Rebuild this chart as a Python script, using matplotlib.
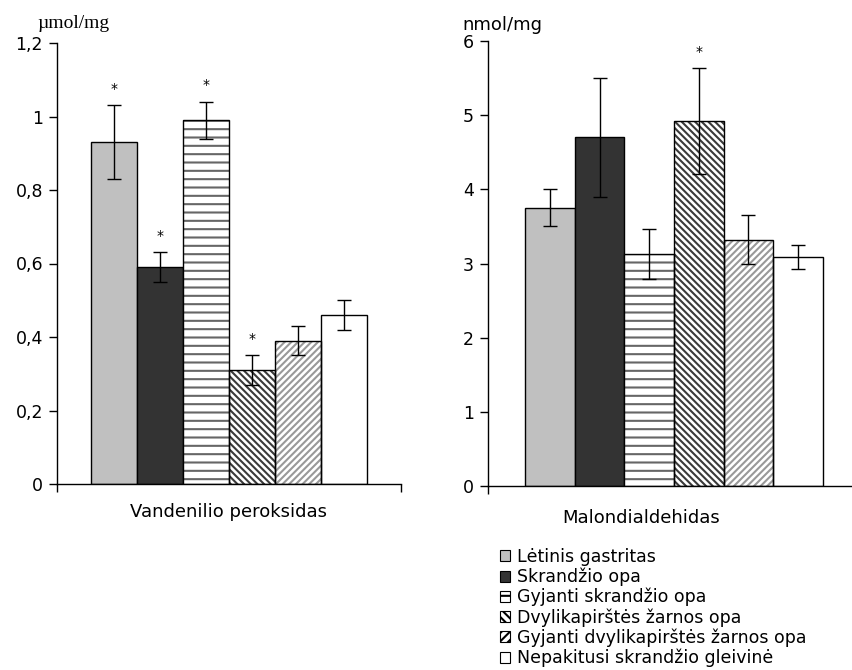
import matplotlib
matplotlib.use("Agg")
import matplotlib.pyplot as plt
from matplotlib.patches import Patch

plt.rcParams['font.family'] = ['DejaVu Sans']
plt.rcParams['hatch.linewidth'] = 1.5

groups = ["Lėtinis gastritas", "Skrandžio opa", "Gyjanti skrandžio opa",
          "Dvylikapirštės žarnos opa", "Gyjanti dvylikapirštės žarnos opa",
          "Nepakitusi skrandžio gleivinė"]

h2o2_vals = [0.93, 0.59, 0.99, 0.31, 0.39, 0.46]
h2o2_err = [0.10, 0.04, 0.05, 0.04, 0.04, 0.04]
h2o2_star = [True, True, True, True, False, False]

mda_vals = [3.75, 4.70, 3.13, 4.92, 3.32, 3.09]
mda_err = [0.25, 0.80, 0.34, 0.71, 0.33, 0.16]
mda_star = [False, False, False, True, False, False]

left_ticks = [0, 0.2, 0.4, 0.6, 0.8, 1.0, 1.2]
left_ticklabels = ["0", "0,2", "0,4", "0,6", "0,8", "1", "1,2"]
right_ticks = [0, 1, 2, 3, 4, 5, 6]
right_ticklabels = ["0", "1", "2", "3", "4", "5", "6"]

faces = ["#c0c0c0", "#333333", "white", "white", "white", "white"]
hatches = [None, None, "--", "\\\\\\\\\\", "/////", None]
hatch_cols = [None, None, "#666666", "#3a3a3a", "#999999", None]
legend_hatches = [None, None, "--", "\\\\\\\\", "////", None]

fig = plt.figure(figsize=(8.53, 6.70), dpi=100)
ax1 = fig.add_axes([57/853, 1-484/670, 344/853, 441/670])
ax2 = fig.add_axes([488/853, 1-486/670, 372/853, 445/670])


def draw(ax, vals, errs, stars, ticks, ticklabels, ymax):
    x = list(range(len(vals)))
    for i, (v, e) in enumerate(zip(vals, errs)):
        if hatches[i]:
            ax.bar(x[i], v, width=1.0, color="white", edgecolor=hatch_cols[i],
                   linewidth=0, hatch=hatches[i], zorder=2)
            ax.bar(x[i], v, width=1.0, color="none", edgecolor="black",
                   linewidth=1.0, zorder=3)
        else:
            ax.bar(x[i], v, width=1.0, color=faces[i], edgecolor="black",
                   linewidth=1.0, zorder=2)
    ax.errorbar(x, vals, yerr=errs, fmt="none", ecolor="black", elinewidth=1.0,
                capsize=5, capthick=1.0, zorder=4)
    for i, s in enumerate(stars):
        if s:
            ax.annotate("*", (x[i], vals[i] + errs[i]), xytext=(0, 7),
                        textcoords="offset points", ha="center", va="bottom",
                        fontsize=10)
    ax.set_xlim(-1.245, 6.245)
    ax.set_ylim(0, ymax)
    ax.set_yticks(ticks)
    ax.set_yticklabels(ticklabels, fontsize=12.5)
    ax.set_xticks([-1.245, 6.245])
    ax.set_xticklabels(["", ""])
    ax.tick_params(axis="both", direction="out", length=6, width=1.0,
                   color="black", pad=4)
    for sp in ["top", "right"]:
        ax.spines[sp].set_visible(False)
    ax.spines["left"].set_linewidth(1.0)
    ax.spines["bottom"].set_linewidth(1.0)


draw(ax1, h2o2_vals, h2o2_err, h2o2_star, left_ticks, left_ticklabels, 1.2)
draw(ax2, mda_vals, mda_err, mda_star, right_ticks, right_ticklabels, 6)

fig.text(37/853, 1-24/670, "µmol/mg", family=["Liberation Serif", "DejaVu Serif"],
         fontsize=14, va="center", ha="left")
fig.text(462/853, 1-25/670, "nmol/mg", fontsize=13, va="center", ha="left")
fig.text(229/853, 1-512/670, "Vandenilio peroksidas", fontsize=13, ha="center", va="center")
fig.text(641/853, 1-518/670, "Malondialdehidas", fontsize=13, ha="center", va="center")

handles = []
for i in range(len(groups)):
    if legend_hatches[i]:
        handles.append(Patch(facecolor="white", edgecolor="black", linewidth=0.8,
                             hatch=legend_hatches[i]))
    else:
        handles.append(Patch(facecolor=faces[i], edgecolor="black", linewidth=0.8))
fig.legend(handles, groups, loc="upper left", bbox_to_anchor=(500/853, 1-548/670),
           frameon=False, fontsize=12.5, handlelength=0.6, handleheight=0.6,
           handletextpad=0.4, labelspacing=0.1, borderpad=0, borderaxespad=0)

fig.savefig("out.png", dpi=100)
